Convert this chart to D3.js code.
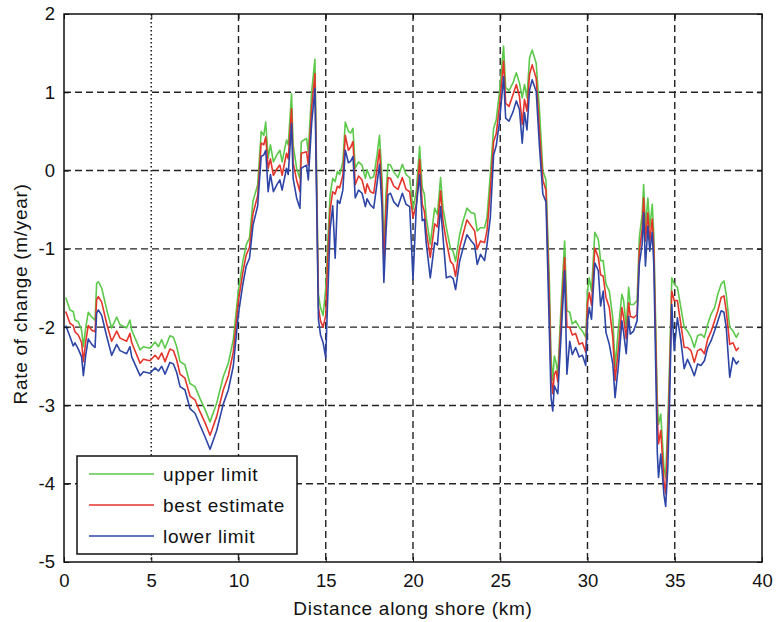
<!DOCTYPE html>
<html><head><meta charset="utf-8">
<script src="https://cdn.jsdelivr.net/npm/d3@7"></script>
<style>body{margin:0;background:#fff}svg{display:block}text{font-family:"Liberation Sans",Arial,sans-serif;fill:#111}</style>
</head><body>
<svg id="chart" width="778" height="622"></svg>
<script>
const distance = [0.10,0.34,0.53,0.63,0.82,1.01,1.11,1.25,1.39,1.59,1.78,1.87,1.97,2.16,2.45,2.73,3.02,3.21,3.59,3.78,3.88,4.36,4.55,4.93,5.22,5.41,5.60,5.79,6.07,6.27,6.46,6.65,6.93,7.22,7.51,7.79,8.08,8.37,8.75,9.13,9.42,9.70,9.99,10.25,10.44,10.63,10.83,11.10,11.30,11.45,11.56,11.70,11.83,12.00,12.20,12.37,12.50,12.75,12.85,13.04,13.13,13.33,13.52,13.60,13.75,13.90,14.00,14.19,14.38,14.58,14.70,14.85,15.00,15.10,15.25,15.40,15.54,15.67,15.80,15.98,16.12,16.30,16.43,16.56,16.69,16.88,17.08,17.27,17.37,17.56,17.75,17.94,18.08,18.23,18.33,18.45,18.57,18.71,18.90,19.14,19.39,19.60,19.81,20.00,20.19,20.38,20.53,20.65,20.76,20.99,21.24,21.40,21.58,21.72,21.91,22.14,22.30,22.44,22.67,22.86,23.09,23.34,23.53,23.68,23.87,24.10,24.24,24.43,24.62,24.77,24.96,25.19,25.31,25.50,25.73,25.92,26.10,26.26,26.39,26.53,26.68,26.83,27.06,27.25,27.44,27.62,27.82,27.91,28.01,28.10,28.20,28.30,28.50,28.69,28.82,28.98,29.13,29.32,29.52,29.71,29.90,30.00,30.10,30.23,30.42,30.62,30.75,30.90,31.06,31.25,31.45,31.58,31.78,31.97,32.07,32.22,32.36,32.45,32.64,32.84,32.97,33.13,33.22,33.32,33.46,33.57,33.71,33.80,34.00,34.07,34.20,34.38,34.48,34.60,34.67,34.83,34.97,35.15,35.35,35.54,35.73,35.93,36.12,36.31,36.50,36.70,36.89,37.09,37.28,37.47,37.66,37.82,37.95,38.15,38.34,38.53,38.67];

const upperLimit = [-1.62,-1.78,-1.80,-1.91,-1.93,-2.04,-2.25,-2.00,-1.81,-1.87,-1.91,-1.44,-1.42,-1.50,-1.78,-2.01,-1.87,-1.97,-2.01,-1.91,-2.04,-2.29,-2.25,-2.27,-2.19,-2.25,-2.16,-2.27,-2.11,-2.13,-2.25,-2.44,-2.48,-2.72,-2.76,-2.91,-3.05,-3.21,-2.97,-2.63,-2.46,-2.16,-1.54,-1.16,-0.95,-0.86,-0.39,-0.18,0.50,0.45,0.62,0.16,0.33,0.11,0.20,0.26,0.11,0.39,0.33,0.98,0.33,0.03,-0.10,0.37,0.39,0.41,0.24,1.00,1.42,-1.58,-1.75,-1.85,-1.50,-1.00,-0.31,-0.10,-0.14,-0.01,-0.05,0.11,0.62,0.50,0.48,0.54,0.03,0.11,0.07,-0.10,0.01,-0.10,-0.08,0.20,0.45,-0.10,-1.07,-0.30,0.08,0.07,-0.02,-0.09,0.08,-0.05,-0.09,-0.50,-0.26,0.31,-0.22,-0.30,-0.60,-0.94,-0.48,-0.56,-0.09,-0.48,-0.73,-0.99,-1.03,-1.16,-0.82,-0.65,-0.48,-0.54,-0.55,-0.77,-0.73,-0.73,-0.60,-0.05,0.54,0.65,1.01,1.59,1.06,1.02,1.12,1.25,1.12,0.93,1.10,0.93,1.44,1.54,1.37,0.76,0.00,-0.12,-1.45,-2.39,-2.68,-2.37,-2.45,-2.60,-1.66,-0.90,-1.79,-1.81,-1.96,-1.92,-2.00,-2.05,-2.13,-1.54,-1.37,-1.54,-0.79,-0.88,-1.15,-1.15,-1.45,-1.54,-1.88,-2.51,-2.00,-1.58,-1.66,-2.00,-1.49,-1.71,-1.71,-1.66,-0.86,-0.56,-0.18,-0.73,-0.35,-0.73,-0.43,-0.82,-2.94,-3.24,-3.11,-3.79,-3.92,-3.20,-2.73,-1.37,-1.45,-1.49,-1.75,-2.00,-2.05,-2.13,-2.26,-2.11,-2.09,-2.13,-1.96,-1.83,-1.75,-1.58,-1.45,-1.41,-1.58,-2.00,-2.05,-2.13,-2.07];

const bestEstimate = [-1.80,-1.95,-1.98,-2.06,-2.10,-2.20,-2.44,-2.18,-1.98,-2.04,-2.06,-1.65,-1.61,-1.68,-1.96,-2.18,-2.05,-2.14,-2.18,-2.08,-2.20,-2.46,-2.41,-2.43,-2.36,-2.41,-2.33,-2.44,-2.28,-2.30,-2.42,-2.60,-2.65,-2.88,-2.93,-3.08,-3.22,-3.38,-3.14,-2.80,-2.62,-2.32,-1.67,-1.30,-1.08,-0.98,-0.55,-0.32,0.35,0.33,0.43,0.03,0.15,-0.06,0.02,0.07,-0.06,0.22,0.15,0.79,0.10,-0.12,-0.27,0.22,0.23,0.24,0.07,0.80,1.24,-1.75,-1.92,-2.00,-1.85,-1.20,-0.50,-0.27,-0.30,-0.20,-0.22,-0.06,0.45,0.26,0.30,0.37,-0.18,-0.07,-0.12,-0.29,-0.17,-0.27,-0.29,0.03,0.27,-0.30,-1.24,-0.50,-0.09,-0.10,-0.20,-0.24,-0.09,-0.24,-0.27,-0.60,-0.43,0.14,-0.43,-0.52,-0.77,-1.11,-0.68,-0.72,-0.26,-0.65,-0.90,-1.16,-1.20,-1.35,-0.99,-0.82,-0.63,-0.71,-0.77,-1.00,-0.90,-0.92,-0.77,-0.26,0.37,0.47,0.84,1.40,0.86,0.82,0.97,1.10,0.95,0.59,0.91,0.76,1.23,1.35,1.18,0.50,-0.12,-0.25,-1.70,-2.60,-2.85,-2.60,-2.56,-2.70,-1.85,-1.11,-2.00,-2.00,-2.10,-2.08,-2.22,-2.20,-2.32,-1.70,-1.56,-1.72,-0.99,-1.11,-1.33,-1.35,-1.62,-1.75,-2.13,-2.68,-2.26,-1.75,-1.88,-2.15,-1.69,-1.86,-1.88,-1.84,-1.03,-0.75,-0.35,-0.90,-0.54,-0.90,-0.62,-0.99,-3.15,-3.49,-3.32,-3.97,-4.13,-3.40,-2.94,-1.54,-1.66,-1.66,-1.96,-2.26,-2.26,-2.30,-2.45,-2.30,-2.28,-2.34,-2.15,-2.05,-1.92,-1.79,-1.62,-1.60,-1.79,-2.22,-2.20,-2.30,-2.26];

const lowerLimit = [-1.98,-2.12,-2.24,-2.20,-2.28,-2.38,-2.62,-2.35,-2.15,-2.22,-2.26,-1.82,-1.78,-1.85,-2.12,-2.36,-2.22,-2.30,-2.34,-2.25,-2.38,-2.62,-2.57,-2.59,-2.52,-2.56,-2.50,-2.60,-2.45,-2.47,-2.58,-2.76,-2.80,-3.04,-3.10,-3.25,-3.40,-3.56,-3.32,-2.98,-2.80,-2.50,-1.84,-1.45,-1.22,-1.12,-0.70,-0.45,0.18,0.20,0.26,-0.27,-0.05,-0.27,-0.18,-0.12,-0.25,0.03,-0.05,0.60,-0.10,-0.35,-0.48,0.03,0.05,0.07,-0.12,0.60,1.05,-1.90,-2.10,-2.20,-2.39,-1.70,-0.75,-0.45,-1.12,-0.38,-0.42,-0.25,0.26,0.10,0.12,0.18,-0.35,-0.25,-0.29,-0.46,-0.36,-0.44,-0.48,-0.16,0.08,-0.50,-1.43,-0.80,-0.31,-0.29,-0.40,-0.46,-0.29,-0.43,-0.46,-1.39,-0.46,-0.05,-0.64,-0.62,-0.93,-1.37,-0.92,-0.95,-0.46,-0.85,-1.37,-1.35,-1.38,-1.52,-1.16,-1.00,-0.82,-0.90,-0.95,-1.20,-1.07,-1.15,-0.95,-0.60,0.20,0.32,0.63,1.20,0.67,0.63,0.75,0.89,0.78,0.35,0.74,0.52,1.03,1.16,1.01,0.30,-0.30,-0.40,-2.10,-2.90,-3.07,-2.75,-2.80,-2.85,-2.05,-1.28,-2.60,-2.18,-2.35,-2.26,-2.38,-2.36,-2.49,-1.92,-1.75,-1.90,-1.18,-1.28,-1.73,-1.54,-2.07,-2.22,-2.47,-2.90,-2.47,-1.92,-2.07,-2.34,-1.86,-2.09,-2.05,-1.92,-1.20,-0.94,-0.54,-1.22,-0.71,-1.03,-0.79,-1.20,-3.60,-3.92,-3.62,-4.14,-4.29,-3.80,-3.28,-1.71,-2.30,-1.88,-2.17,-2.53,-2.41,-2.51,-2.62,-2.47,-2.49,-2.43,-2.26,-2.17,-2.05,-1.92,-1.79,-1.81,-2.00,-2.64,-2.39,-2.47,-2.43];

const xTicks = [0,5,10,15,20,25,30,35,40];
const yTicks = [-5,-4,-3,-2,-1,0,1,2];
const seriesNames = ["upper limit","best estimate","lower limit"];
const seriesColors = ["#5cc94b","#e5352b","#2d45a6"];

const svg = d3.select("#chart");
const L = 64, R = 762, T = 14, B = 562;
const x = d3.scaleLinear().domain([0,40]).range([L,R]);
const y = d3.scaleLinear().domain([-5,2]).range([B,T]);

// grid
const grid = svg.append("g");
xTicks.filter(t => t>0 && t<40).forEach(t => {
  grid.append("line").attr("x1",x(t)).attr("x2",x(t)).attr("y1",T).attr("y2",B)
    .attr("stroke","#222").attr("stroke-width", t===5 ? 1.6 : 1.4)
    .attr("stroke-dasharray", t===5 ? "1.6,2.4" : "7,4");
});
yTicks.filter(t => t>-5 && t<2).forEach(t => {
  grid.append("line").attr("x1",L).attr("x2",R).attr("y1",y(t)).attr("y2",y(t))
    .attr("stroke","#222").attr("stroke-width",1.4).attr("stroke-dasharray","7,4");
});

// series
const seriesData = [upperLimit, bestEstimate, lowerLimit];
const line = d3.line().x(d => x(d[0])).y(d => y(d[1]));
seriesData.forEach((vals,i) => {
  svg.append("path").datum(distance.map((d,j)=>[d,vals[j]]))
    .attr("d", line).attr("fill","none").attr("stroke",seriesColors[i])
    .attr("stroke-width",1.6).attr("stroke-linejoin","round");
});

// axes with inward ticks
const fmt = d => String(d);
const axB = svg.append("g").attr("transform",`translate(0,${B})`)
  .call(d3.axisBottom(x).tickValues(xTicks).tickSize(-5).tickPadding(12).tickFormat(fmt));
const axL = svg.append("g").attr("transform",`translate(${L},0)`)
  .call(d3.axisLeft(y).tickValues(yTicks).tickSize(-5).tickPadding(9).tickFormat(fmt));
svg.append("g").attr("transform",`translate(0,${T})`)
  .call(d3.axisTop(x).tickValues(xTicks).tickSize(-5).tickFormat(""));
svg.append("g").attr("transform",`translate(${R},0)`)
  .call(d3.axisRight(y).tickValues(yTicks).tickSize(-5).tickFormat(""));
svg.selectAll(".domain").remove();
svg.selectAll(".tick line").attr("stroke","#111");
[axB,axL].forEach(a => a.selectAll("text").style("font-size","18.5px").style("font-family","'Liberation Sans',Arial,sans-serif").attr("fill","#111"));
svg.append("rect").attr("x",L).attr("y",T).attr("width",R-L).attr("height",B-T)
  .attr("fill","none").attr("stroke","#111").attr("stroke-width",1.5);

// titles
svg.append("text").attr("x",(L+R)/2).attr("y",615).attr("text-anchor","middle")
  .style("font-size","19px").style("letter-spacing","0.7px").text("Distance along shore (km)");
svg.append("text").attr("transform",`translate(27,${(T+B)/2 + 6}) rotate(-90)`).attr("text-anchor","middle")
  .style("font-size","19px").style("letter-spacing","0.7px").text("Rate of change (m/year)");

// legend
const lg = svg.append("g");
lg.append("rect").attr("x",77).attr("y",456).attr("width",220).attr("height",98)
  .attr("fill","#fff").attr("stroke","#111").attr("stroke-width",1.5);
seriesNames.forEach((n,i) => {
  const yy = 474 + i*31;
  lg.append("line").attr("x1",89).attr("x2",154).attr("y1",yy).attr("y2",yy)
    .attr("stroke",seriesColors[i]).attr("stroke-width",1.4);
  lg.append("text").attr("x",163).attr("y",yy+7).style("font-size","19px").style("letter-spacing","0.7px").text(n);
});
</script>
</body></html>
